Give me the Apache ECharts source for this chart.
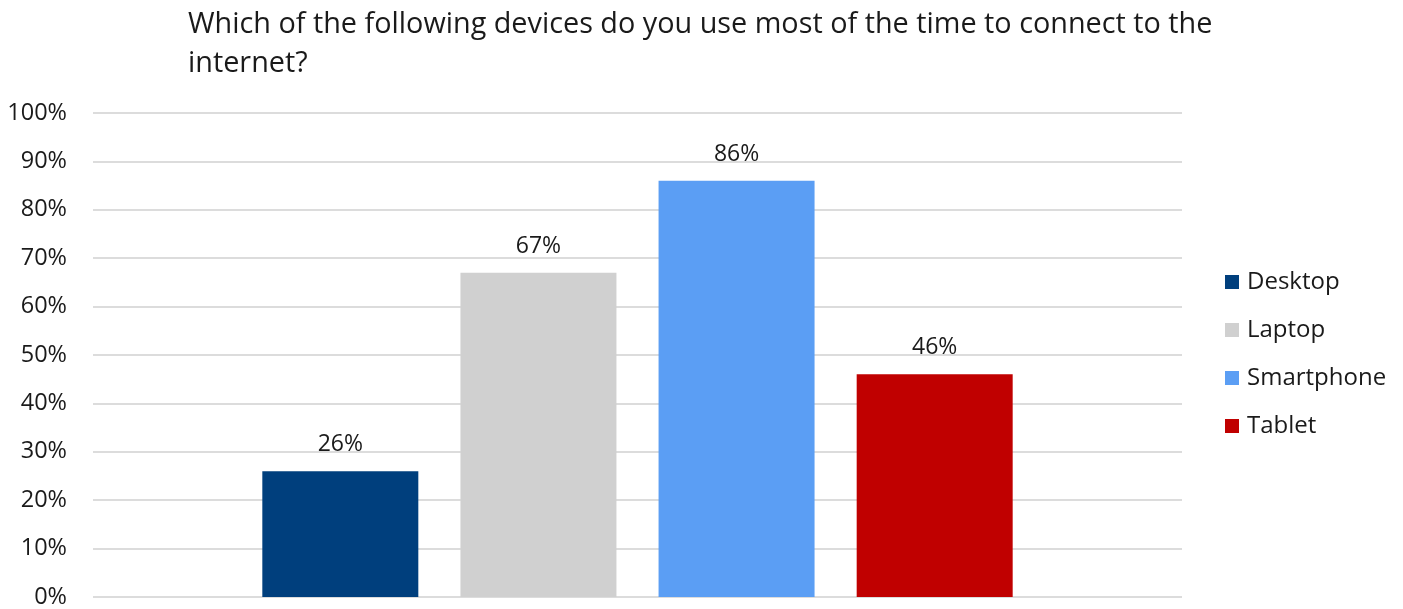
<!DOCTYPE html>
<html>
<head>
<meta charset="utf-8">
<script src="https://cdn.jsdelivr.net/npm/echarts@6/dist/echarts.min.js"></script>
<style>
  html, body { margin: 0; padding: 0; background: #fff; }
  #chart { width: 1403px; height: 609px; }
</style>
</head>
<body>
<div id="chart"></div>
<script>
const titleText = 'Which of the following devices do you use most of the time to connect to the\ninternet?';
const devices = ['Desktop', 'Laptop', 'Smartphone', 'Tablet'];
const shares = [26, 67, 86, 46];
const colors = ['#003f7d', '#d0d0d0', '#5b9ef4', '#c00000'];
const yTicks = [0, 10, 20, 30, 40, 50, 60, 70, 80, 90, 100];

const font = '"Open Sans", "Noto Sans", sans-serif';

const chart = echarts.init(document.getElementById('chart'), null, { renderer: 'canvas' });

chart.setOption({
  animation: false,
  backgroundColor: '#ffffff',
  title: {
    text: titleText,
    left: 183,
    top: 0,
    textStyle: { fontFamily: font, fontSize: 28.8, fontWeight: 'normal', color: '#1a1a1a', lineHeight: 39 }
  },
  legend: {
    orient: 'vertical',
    left: 1220,
    top: 265,
    itemWidth: 14,
    itemHeight: 14,
    itemGap: 24,
    icon: 'rect',
    data: devices,
    textStyle: { fontFamily: font, fontSize: 24, color: '#1a1a1a', lineHeight: 24, padding: [0, 0, 0, 3] }
  },
  grid: { left: 93, right: 221, top: 113, bottom: 11, containLabel: false },
  xAxis: {
    type: 'category',
    data: [''],
    axisLine: { show: false },
    axisTick: { show: false },
    axisLabel: { show: false }
  },
  yAxis: {
    type: 'value',
    min: yTicks[0],
    max: yTicks[yTicks.length - 1],
    interval: 10,
    axisLine: { show: false },
    axisTick: { show: false },
    axisLabel: {
      margin: 26,
      fontFamily: font,
      fontSize: 23.5,
      color: '#1a1a1a',
      formatter: v => v + '%'
    },
    splitLine: { lineStyle: { color: '#dcdcdc', width: 2 } }
  },
  series: devices.map((name, i) => ({
    name: name,
    type: 'bar',
    barWidth: 156,
    barGap: '27%',
    itemStyle: { color: colors[i] },
    label: {
      show: true,
      position: 'top',
      distance: 15,
      fontFamily: font,
      fontSize: 23,
      color: '#1a1a1a',
      formatter: p => Math.round(p.value) + '%'
    },
    data: [shares[i]]
  }))
});
</script>
</body>
</html>
